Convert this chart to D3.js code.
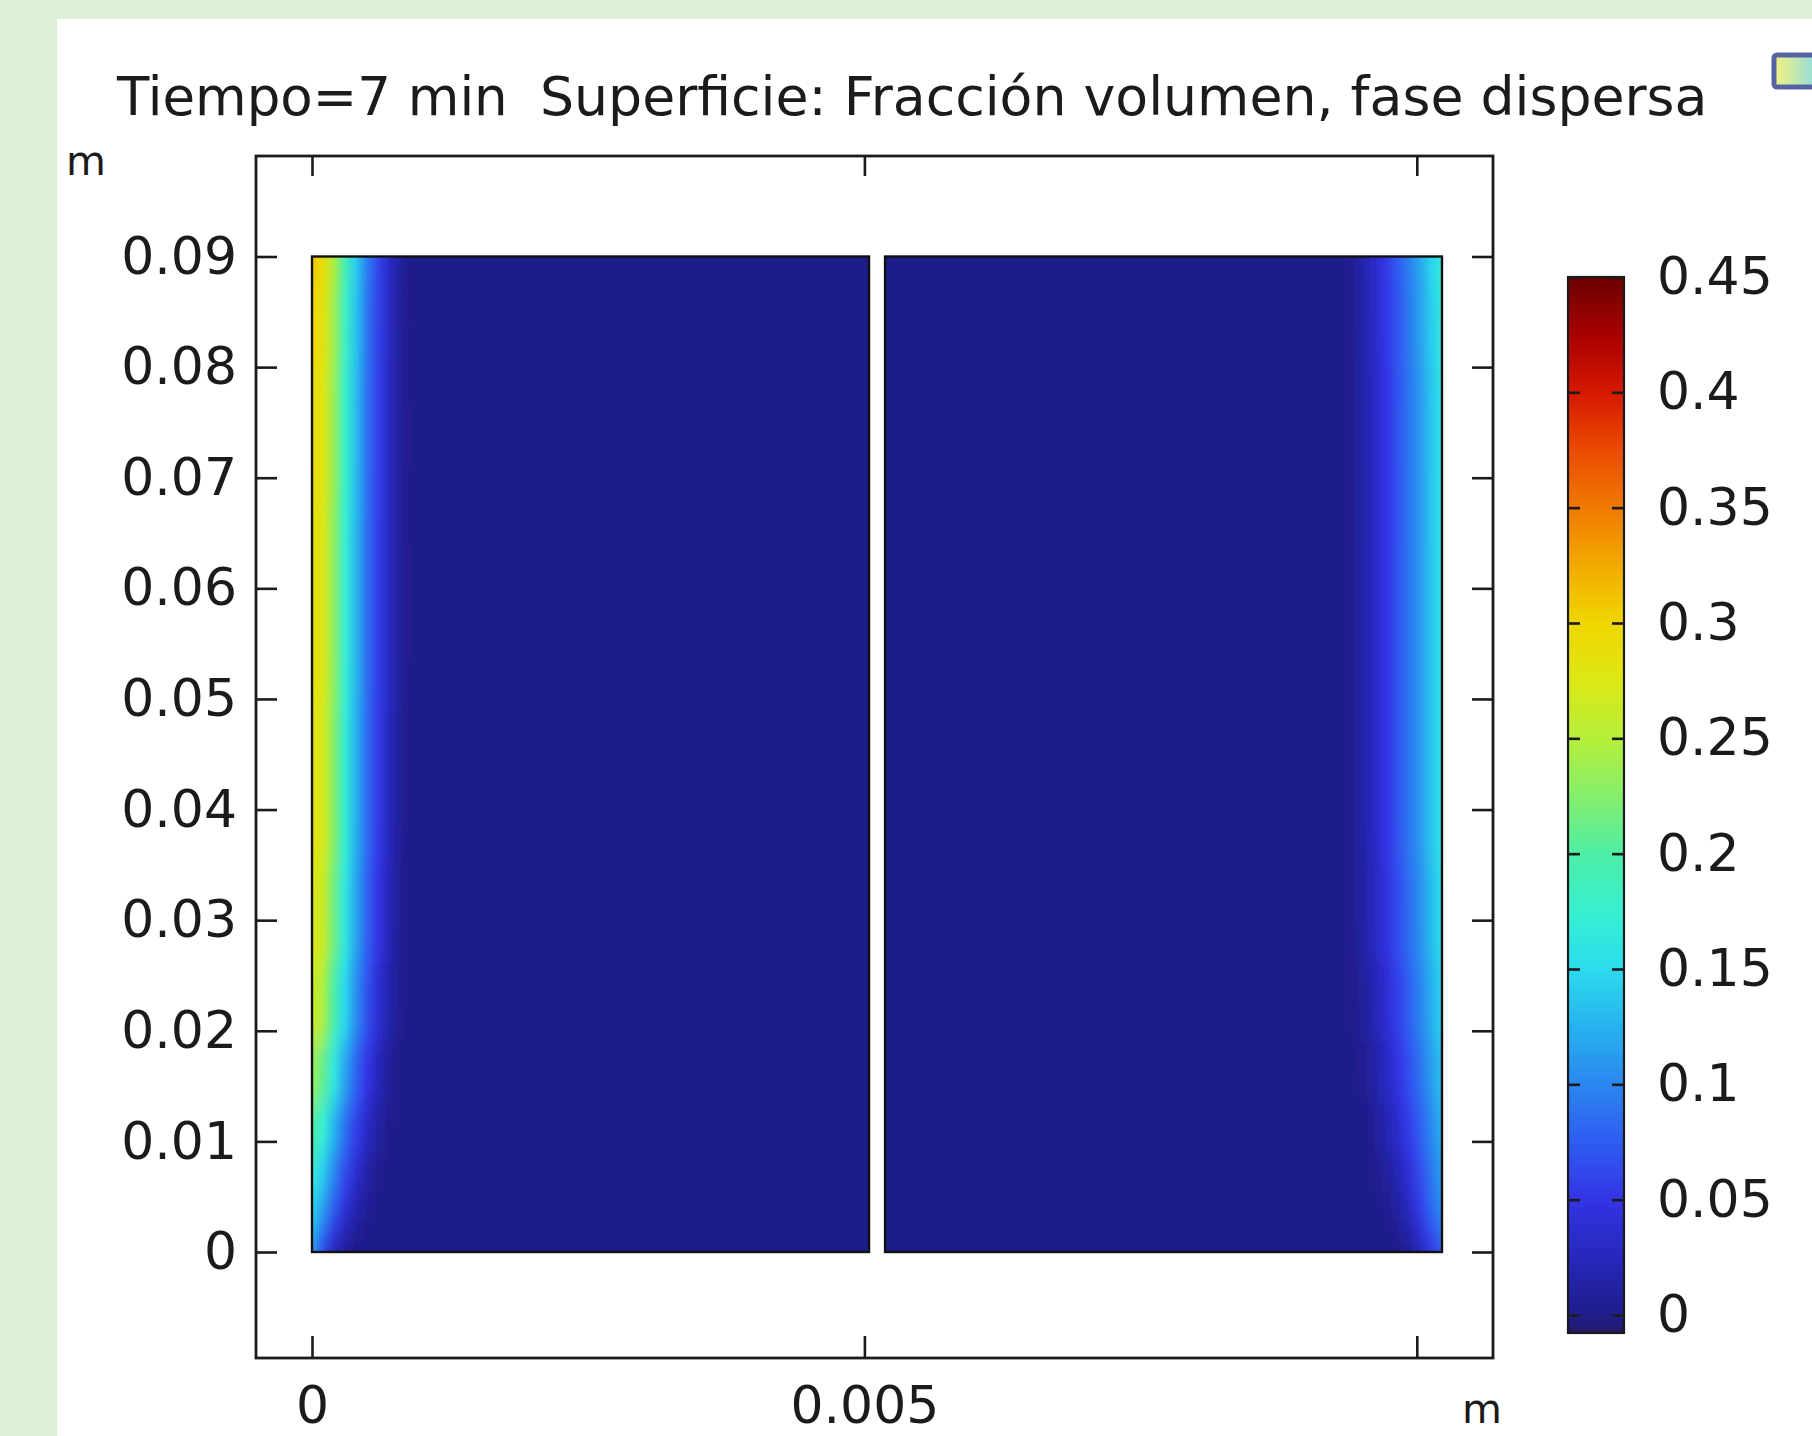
<!DOCTYPE html>
<html>
<head>
<meta charset="utf-8">
<script src="https://cdnjs.cloudflare.com/ajax/libs/d3/7.8.5/d3.min.js"></script>
<style>
  html, body { margin: 0; padding: 0; background: #dcf1d8; }
  svg { display: block; }
  text { font-family: "DejaVu Sans", sans-serif; fill: #1b1b1b; }
</style>
</head>
<body>
<div id="workspace"></div>
<script>
// ticks and labels
var yTicks = [0, 0.01, 0.02, 0.03, 0.04, 0.05, 0.06, 0.07, 0.08, 0.09];
var xTicks = [0, 0.005, 0.01];
var xTickLabels = ["0", "0.005", ""];
var cbTicks = [0, 0.05, 0.1, 0.15, 0.2, 0.25, 0.3, 0.35, 0.4, 0.45];
var titleTime = "Tiempo=7 min";
var titleExpr = "Superficie: Fracción volumen, fase dispersa";

// colour table (value -> colour)
var cmapValues = [-0.0078, 0, 0.025, 0.05, 0.075, 0.1, 0.125, 0.15, 0.175, 0.2, 0.225, 0.25, 0.275, 0.3, 0.325, 0.35, 0.375, 0.4, 0.425, 0.45];
var cmapColors = ["#24196a", "#1f1d8a", "#2727bc", "#3334e4", "#2f5cf2", "#2b86f0", "#27b2ee", "#2cdcee", "#38f0d0", "#4eeea6", "#86ee6c", "#b6ee3a", "#dce816", "#f0d600", "#f2aa00", "#f07a00", "#ea4a00", "#d61800", "#a80000", "#6a0000"];

// two fluid sub-domains (m), with a thin wall between them
var subX0 = [0, 0.005187];
var subX1 = [0.005042, 0.010228];
var domY0 = 0, domY1 = 0.09;

// distance from the wall (m) where the profile is sampled
var wallOffsets = [0, 0.0001, 0.0002, 0.0003, 0.0004, 0.0005, 0.0006, 0.0007, 0.0008, 0.0009];

// heights (m) of the sampled rows
var rowY = [0.09, 0.085, 0.075, 0.06, 0.04, 0.03, 0.022, 0.016, 0.011, 0.007, 0.004, 0.0015, 0];
// volume fraction near the left wall, one list per row
var leftWall = [
  [0.31, 0.29, 0.245, 0.19, 0.14, 0.095, 0.062, 0.031, 0.009, 0],
  [0.30, 0.283, 0.238, 0.183, 0.135, 0.091, 0.059, 0.03, 0.008, 0],
  [0.295, 0.278, 0.233, 0.178, 0.131, 0.088, 0.057, 0.029, 0.008, 0],
  [0.29, 0.274, 0.228, 0.174, 0.128, 0.086, 0.056, 0.028, 0.008, 0],
  [0.285, 0.27, 0.224, 0.17, 0.124, 0.084, 0.054, 0.027, 0.007, 0],
  [0.278, 0.262, 0.215, 0.162, 0.117, 0.078, 0.049, 0.023, 0.005, 0],
  [0.265, 0.245, 0.197, 0.147, 0.104, 0.068, 0.04, 0.017, 0.003, 0],
  [0.235, 0.21, 0.162, 0.117, 0.08, 0.05, 0.025, 0.008, 0, 0],
  [0.2, 0.172, 0.127, 0.088, 0.057, 0.031, 0.012, 0.002, 0, 0],
  [0.17, 0.14, 0.1, 0.064, 0.036, 0.015, 0.003, 0, 0, 0],
  [0.148, 0.115, 0.076, 0.043, 0.019, 0.006, 0, 0, 0, 0],
  [0.128, 0.085, 0.045, 0.019, 0.006, 0, 0, 0, 0, 0],
  [0.105, 0.055, 0.02, 0.005, 0, 0, 0, 0, 0, 0]
];
// volume fraction near the right wall, one list per row
var rightWall = [
  [0.17, 0.145, 0.118, 0.095, 0.074, 0.054, 0.035, 0.019, 0.006, 0],
  [0.165, 0.14, 0.114, 0.092, 0.072, 0.052, 0.034, 0.018, 0.005, 0],
  [0.16, 0.135, 0.11, 0.09, 0.07, 0.05, 0.032, 0.017, 0.005, 0],
  [0.16, 0.135, 0.11, 0.09, 0.07, 0.05, 0.032, 0.017, 0.005, 0],
  [0.16, 0.135, 0.11, 0.09, 0.07, 0.05, 0.032, 0.017, 0.005, 0],
  [0.155, 0.13, 0.105, 0.085, 0.065, 0.046, 0.029, 0.015, 0.004, 0],
  [0.145, 0.122, 0.098, 0.077, 0.057, 0.039, 0.023, 0.01, 0.002, 0],
  [0.135, 0.112, 0.088, 0.067, 0.047, 0.03, 0.015, 0.005, 0, 0],
  [0.125, 0.1, 0.076, 0.055, 0.036, 0.02, 0.008, 0, 0, 0],
  [0.115, 0.09, 0.065, 0.042, 0.023, 0.009, 0.002, 0, 0, 0],
  [0.105, 0.082, 0.055, 0.03, 0.012, 0.003, 0, 0, 0, 0],
  [0.09, 0.065, 0.038, 0.016, 0.004, 0, 0, 0, 0, 0],
  [0.07, 0.045, 0.02, 0.005, 0, 0, 0, 0, 0, 0]
];

var W = 1812, H = 1436;
var svg = d3.select("#workspace")
	.append("svg")
	.attr("width", W)
	.attr("height", H);
var defs = svg.append("defs");

// white panel
svg.append("rect")
	.attr("x", 57).attr("y", 19)
	.attr("width", W - 57).attr("height", H - 19)
	.attr("fill", "#ffffff");

// frame of the plot, in pixels
var fL = 256, fR = 1493, fT = 156, fB = 1358;

var x = d3.scaleLinear().domain([0, 0.005]).range([312, 864.4]);
var y = d3.scaleLinear().domain([0, 0.09]).range([1252, 256.5]);
var color = d3.scaleLinear().domain(cmapValues).range(cmapColors).interpolate(d3.interpolateRgb);

// field
defs.append("clipPath").attr("id", "domclip")
	.selectAll("rect")
	.data(subX0)
	.join("rect")
	.attr("x", function(d, i) { return x(subX0[i]); })
	.attr("y", y(domY1))
	.attr("width", function(d, i) { return x(subX1[i]) - x(subX0[i]); })
	.attr("height", y(domY0) - y(domY1));

var blur = defs.append("filter").attr("id", "vblur")
	.attr("x", "-0.02").attr("y", "-0.2").attr("width", "1.04").attr("height", "1.4");
blur.append("feGaussianBlur").attr("stdDeviation", "0 14");

var field = svg.append("g").attr("clip-path", "url(#domclip)");
var bands = field.append("g").attr("filter", "url(#vblur)");

rowY.forEach(function(ry, r) {
	var top = r == 0 ? y(domY1) - 80 : (y(rowY[r - 1]) + y(ry)) / 2;
	var bot = r == rowY.length - 1 ? y(domY0) + 80 : (y(rowY[r + 1]) + y(ry)) / 2;
	for (var s = 0; s < 2; s++) {
		var gid = "g" + r + "_" + s;
		var xa = x(subX0[s]), xb = x(subX1[s]);
		var wm = subX1[s] - subX0[s];
		var g = defs.append("linearGradient").attr("id", gid)
			.attr("gradientUnits", "userSpaceOnUse")
			.attr("x1", xa).attr("x2", xb).attr("y1", 0).attr("y2", 0);
		var vals = s == 0 ? leftWall[r] : rightWall[r];
		var stops = wallOffsets.map(function(o, k) {
			return { off: s == 0 ? o / wm : 1 - o / wm, v: vals[k] };
		});
		stops.sort(function(a, b) { return a.off - b.off; });
		g.selectAll("stop")
			.data(stops)
			.join("stop")
			.attr("offset", function(d) { return d.off; })
			.attr("stop-color", function(d) { return color(d.v); });
		bands.append("rect")
			.attr("x", xa).attr("y", top)
			.attr("width", xb - xa).attr("height", bot - top + 0.5)
			.attr("fill", "url(#" + gid + ")");
	}
});

// sub-domain outlines
svg.append("g").selectAll("rect")
	.data(subX0)
	.join("rect")
	.attr("x", function(d, i) { return x(subX0[i]); })
	.attr("y", y(domY1))
	.attr("width", function(d, i) { return x(subX1[i]) - x(subX0[i]); })
	.attr("height", y(domY0) - y(domY1))
	.attr("fill", "none")
	.attr("stroke", "#111")
	.attr("stroke-width", 2.4);

// axes, ticks pointing inward
function styleAxis(g) {
	g.select(".domain").remove();
	g.selectAll(".tick line").attr("stroke", "#1b1b1b").attr("stroke-width", 2.6);
	g.selectAll(".tick text").attr("font-size", "52px").attr("font-family", "DejaVu Sans").attr("fill", "#1b1b1b");
}

svg.append("g").attr("transform", "translate(" + fL + ",0)")
	.call(d3.axisLeft(y).tickValues(yTicks).tickSize(-21).tickPadding(19).tickFormat(d3.format("~g")))
	.call(styleAxis);
svg.append("g").attr("transform", "translate(" + fR + ",0)")
	.call(d3.axisRight(y).tickValues(yTicks).tickSize(-21).tickFormat(""))
	.call(styleAxis);
svg.append("g").attr("transform", "translate(0," + fT + ")")
	.call(d3.axisTop(x).tickValues(xTicks).tickSize(-20).tickFormat(""))
	.call(styleAxis);
svg.append("g").attr("transform", "translate(0," + fB + ")")
	.call(d3.axisBottom(x).tickValues(xTicks).tickSize(-22).tickPadding(28)
		.tickFormat(function(d, i) { return xTickLabels[i]; }))
	.call(styleAxis);

svg.append("rect")
	.attr("x", fL).attr("y", fT)
	.attr("width", fR - fL).attr("height", fB - fT)
	.attr("fill", "none")
	.attr("stroke", "#1b1b1b")
	.attr("stroke-width", 2.8);

// unit labels
svg.append("text").attr("x", 66).attr("y", 175).attr("font-size", "41px").text("m");
svg.append("text").attr("x", 1462).attr("y", 1423).attr("font-size", "41px").text("m");

// title
svg.append("text").attr("x", 117).attr("y", 115).attr("font-size", "53px").text(titleTime);
svg.append("text").attr("x", 540).attr("y", 115).attr("font-size", "53.7px").text(titleExpr);

// colour bar
var cbL = 1568, cbR = 1624;
var cb = d3.scaleLinear().domain([0, 0.45]).range([1315, 277]);
var cbBottom = cmapValues[0];
var cg = defs.append("linearGradient").attr("id", "cbgrad")
	.attr("gradientUnits", "userSpaceOnUse")
	.attr("x1", 0).attr("x2", 0).attr("y1", cb(cbBottom)).attr("y2", cb(0.45));
cg.selectAll("stop")
	.data(cmapValues)
	.join("stop")
	.attr("offset", function(d) { return (d - cbBottom) / (0.45 - cbBottom); })
	.attr("stop-color", function(d, i) { return cmapColors[i]; });

svg.append("rect")
	.attr("x", cbL).attr("y", cb(0.45))
	.attr("width", cbR - cbL).attr("height", cb(cbBottom) - cb(0.45))
	.attr("fill", "url(#cbgrad)")
	.attr("stroke", "#1b1b1b")
	.attr("stroke-width", 2.2);

svg.append("g").attr("transform", "translate(" + cbL + ",0)")
	.call(d3.axisRight(cb).tickValues(cbTicks).tickSize(12).tickFormat(""))
	.call(styleAxis);
svg.append("g").attr("transform", "translate(" + cbR + ",0)")
	.call(d3.axisLeft(cb).tickValues(cbTicks).tickSize(12).tickFormat(""))
	.call(styleAxis);
svg.append("g").attr("transform", "translate(" + cbR + ",0)")
	.call(d3.axisRight(cb).tickValues(cbTicks).tickSize(0).tickPadding(33).tickFormat(d3.format("~g")))
	.call(styleAxis)
	.selectAll(".tick text").attr("text-anchor", "start");

// small image icon at the top right corner
var ig = defs.append("linearGradient").attr("id", "icongrad")
	.attr("x1", 0).attr("x2", 1).attr("y1", 0).attr("y2", 0);
ig.append("stop").attr("offset", 0).attr("stop-color", "#f2f060");
ig.append("stop").attr("offset", 1).attr("stop-color", "#60d0e8");
svg.append("rect")
	.attr("x", 1774).attr("y", 55)
	.attr("width", 50).attr("height", 32)
	.attr("rx", 3)
	.attr("fill", "url(#icongrad)")
	.attr("stroke", "#2d3c8c")
	.attr("stroke-width", 5)
	.attr("opacity", 0.8);
</script>
</body>
</html>
